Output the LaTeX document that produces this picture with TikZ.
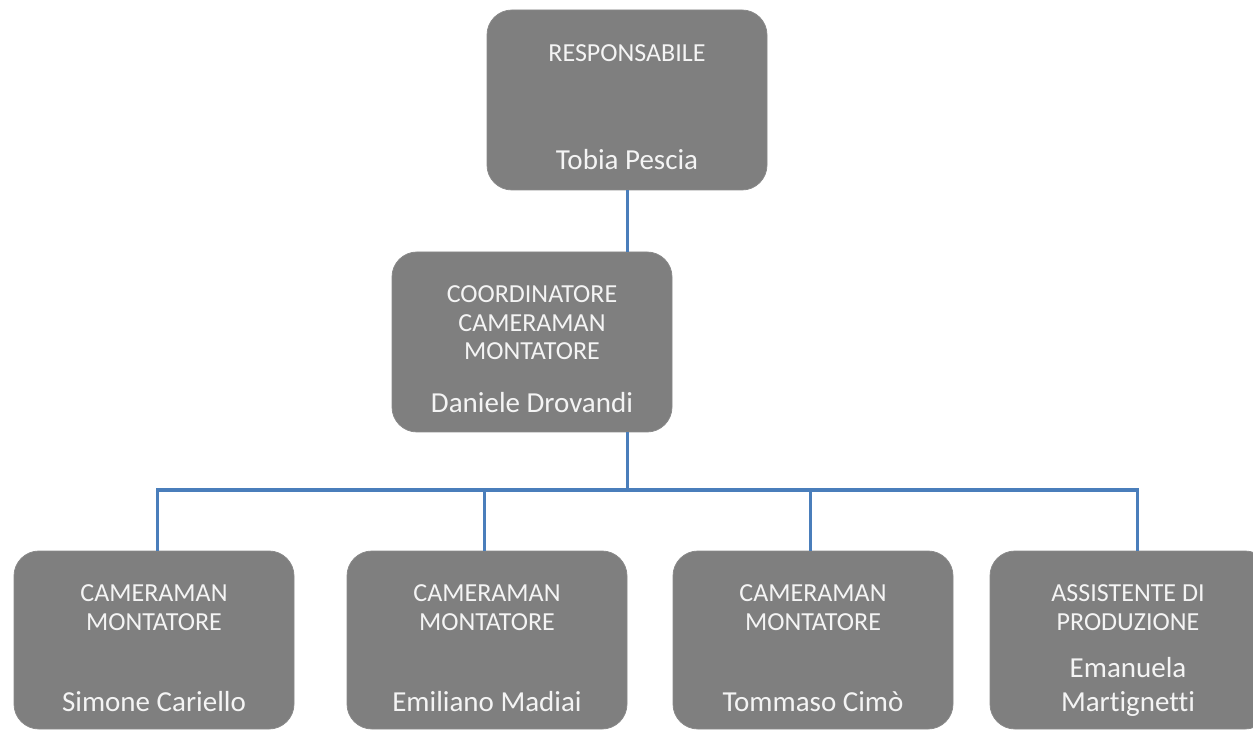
\documentclass[tikz,border=0pt]{standalone}
\usepackage{fontspec}
\setmainfont{Carlito}[RawFeature={-liga;-clig;-dlig}]
\definecolor{boxgray}{HTML}{7F7F7F}
\definecolor{edgegray}{HTML}{8A8A8A}
\definecolor{linkblue}{HTML}{4A7EBB}
\definecolor{txt}{HTML}{F4F4F4}
\begin{document}
\begin{tikzpicture}[x=1pt,y=1pt,
  orgbox/.style={draw=edgegray, line width=0.8pt, fill=boxgray, rounded corners=25pt,
    minimum width=280pt, minimum height=180pt, inner sep=0pt},
  lowbox/.style={orgbox, minimum height=178pt},
  role/.style={text=txt, font=\fontsize{26}{28.5}\selectfont, align=center, inner sep=0pt},
  person/.style={text=txt, font=\fontsize{29}{34}\selectfont, align=center, inner sep=0pt},
  link/.style={draw=linkblue, line width=3pt}]
\useasboundingbox (0,0) rectangle (1253,729);
% boxes
\node[orgbox] (top) at (627,629) {};
\node[orgbox] (mid) at (532,387) {};
\node[lowbox] (b1) at (154,89) {};
\node[lowbox] (b2) at (487,89) {};
\node[lowbox] (b3) at (813,89) {};
\node[lowbox] (b4) at (1130,89) {};
% texts
\node[role] (tr) at (627,676) {RESPONSABILE};
\node[person] (tp) at (627,569) {Tobia Pescia};
\node[role] (mr) at (532,406) {COORDINATORE\\CAMERAMAN\\MONTATORE};
\node[person] (mp) at (532,326) {Daniele Drovandi};
\node[role] (r1) at (154,121.5) {CAMERAMAN\\MONTATORE};
\node[person] (p1) at (154,27) {Simone Cariello};
\node[role] (r2) at (487,121.5) {CAMERAMAN\\MONTATORE};
\node[person] (p2) at (487,27) {Emiliano Madiai};
\node[role] (r3) at (813,121.5) {CAMERAMAN\\MONTATORE};
\node[person] (p3) at (813,27) {Tommaso Cimò};
\node[role] (r4) at (1128,121.5) {ASSISTENTE DI\\PRODUZIONE};
\node[person] (p4) at (1128,42.5) {Emanuela\\Martignetti};
% connectors
\coordinate (bus) at (627,239);
\draw[link] (top.south) -- (top.south |- mid.north);
\draw[link] (mid.south -| top.south) -- (bus);
\draw[link] ([xshift=3pt]b1.north) |- (bus) -| ([xshift=7pt]b4.north);
\draw[link] ([xshift=-3pt]b2.north) -- ([xshift=-3pt]b2.north |- bus);
\draw[link] ([xshift=-3pt]b3.north) -- ([xshift=-3pt]b3.north |- bus);
\end{tikzpicture}
\end{document}
